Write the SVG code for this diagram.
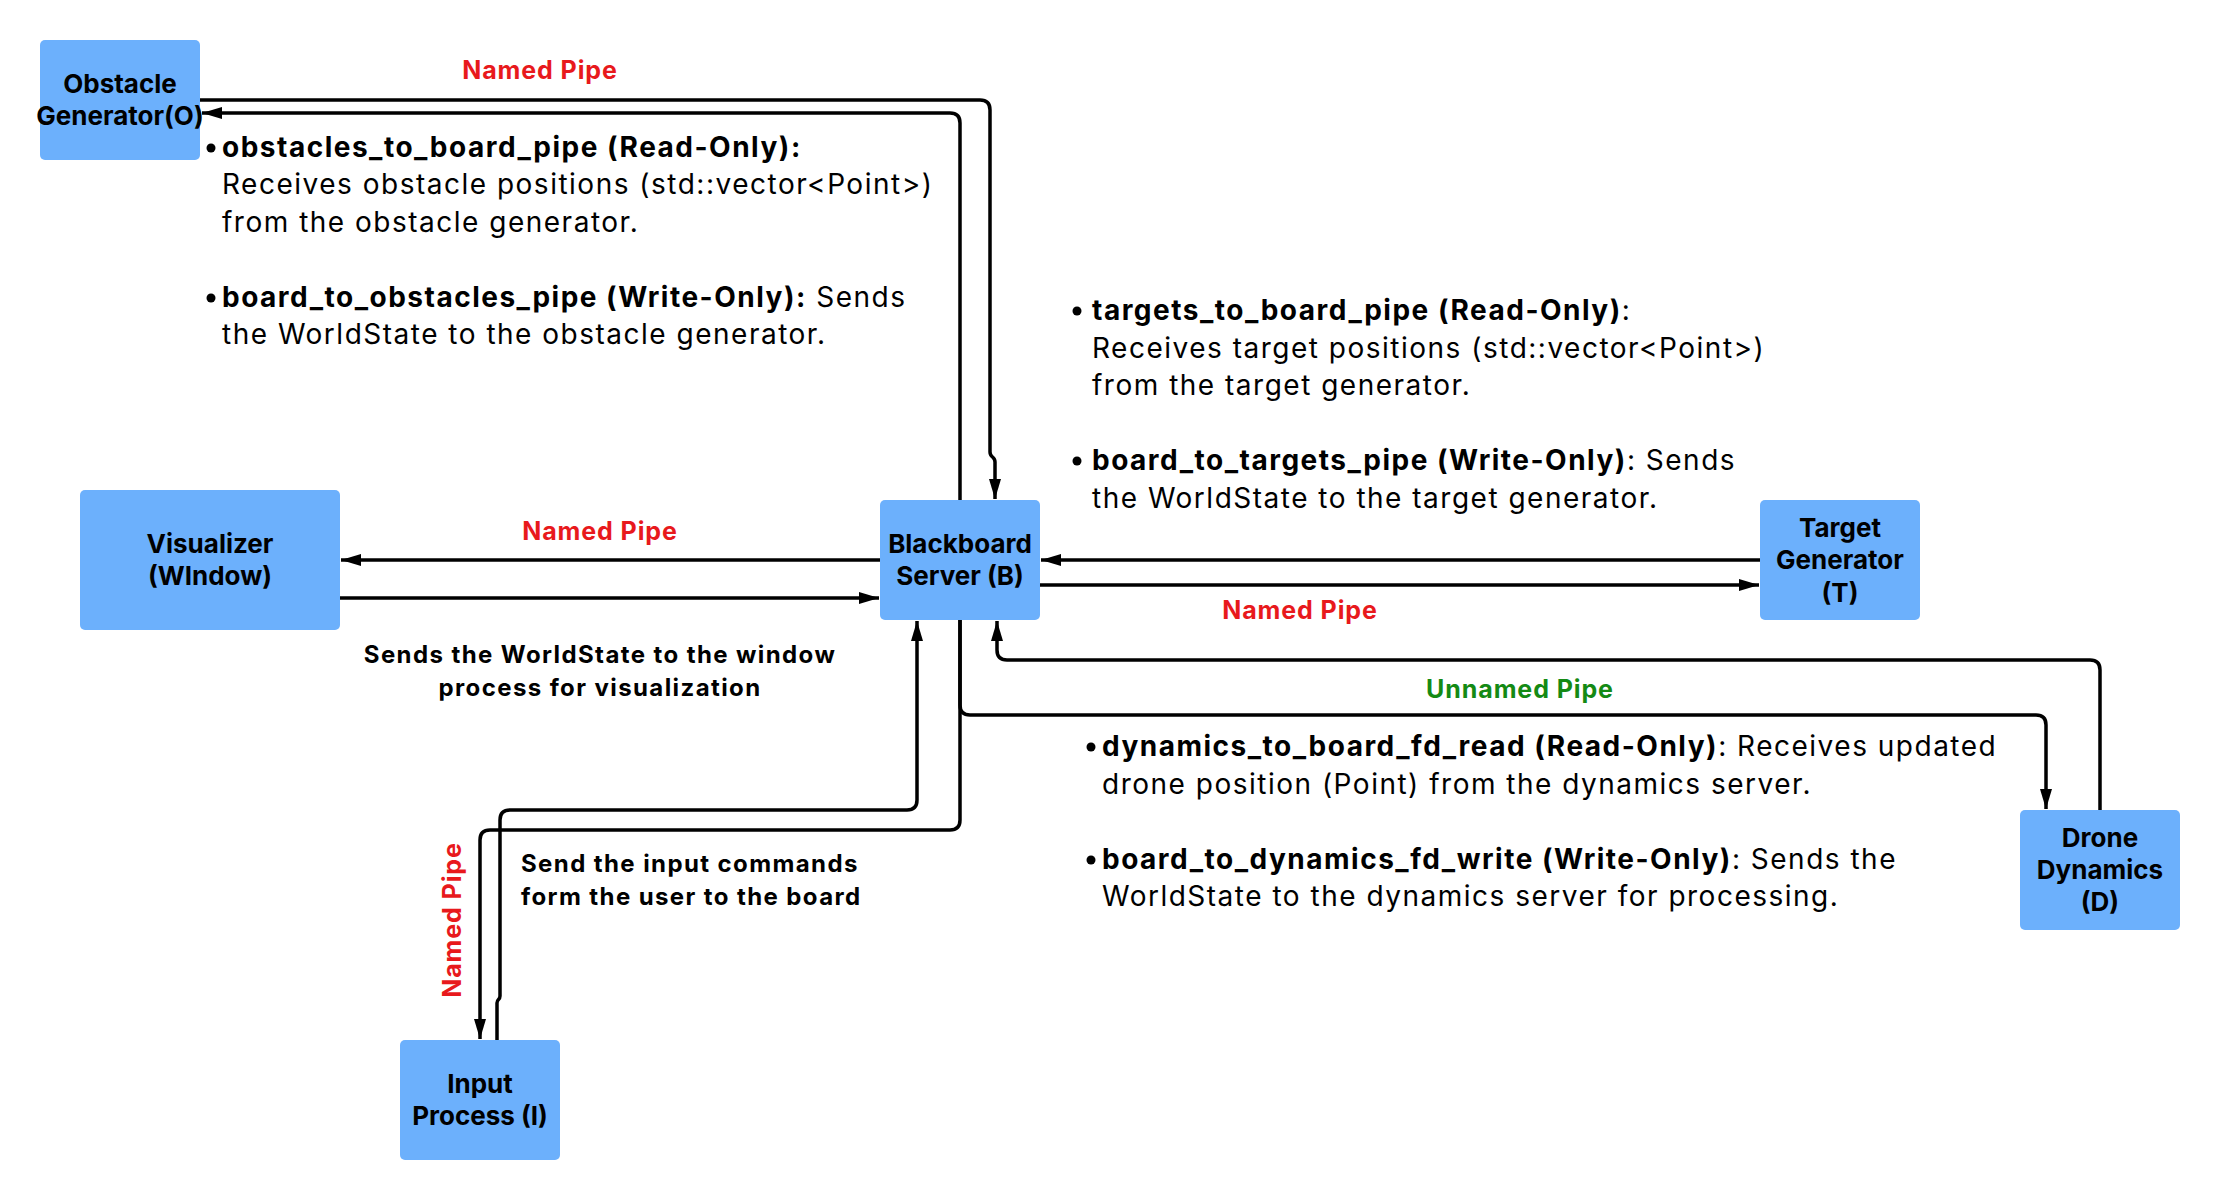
<svg xmlns="http://www.w3.org/2000/svg" width="2220" height="1200" viewBox="0 0 2220 1200">
<defs>
<marker id="arr" markerUnits="userSpaceOnUse" markerWidth="20" markerHeight="12" refX="20" refY="6" orient="auto">
<path d="M0,0 L20,6 L0,12 Z" fill="#000"/>
</marker>
<style>
.node rect{fill:#6CB0FC;stroke:none}
.nl{font-family:Inter,"Noto Sans","Liberation Sans",sans-serif;font-weight:700;font-size:26px;fill:#000;text-anchor:middle}
.body{font-family:Inter,"Noto Sans","Liberation Sans",sans-serif;font-size:28px;letter-spacing:1.5px;fill:#000}
.b{font-weight:700}
.cap{font-family:Inter,"Noto Sans","Liberation Sans",sans-serif;font-weight:700;font-size:24px;letter-spacing:1.4px;fill:#000}
.red{font-family:Inter,"Noto Sans","Liberation Sans",sans-serif;font-weight:700;font-size:25px;letter-spacing:0.9px;fill:#E8191C;text-anchor:middle}
.green{font-family:Inter,"Noto Sans","Liberation Sans",sans-serif;font-weight:700;font-size:25px;letter-spacing:0.9px;fill:#148A14;text-anchor:middle}
.conn path{fill:none;stroke:#000;stroke-width:3.5;marker-end:url(#arr)}
</style>
</defs>
<rect width="2220" height="1200" fill="#fff"/>

<g id="connectors" class="conn">
<path d="M960,500 V123 Q960,113 950,113 H202"/>
<path d="M200,100 H980 Q990,100 990,110 V452 C990,458 995,456 995,462 V499" />
<path d="M880,560 H341"/>
<path d="M340,598 H879"/>
<path d="M1760,560 H1041"/>
<path d="M1040,585 H1759"/>
<path d="M2100,810 V670 Q2100,660 2090,660 H1007 Q997,660 997,650 V621"/>
<path d="M960,620 V705 Q960,715 970,715 H2036 Q2046,715 2046,725 V809"/>
<path d="M960,620 V820 Q960,830 950,830 H490 Q480,830 480,840 V1039"/>
<path d="M497,1040 V1003 C497,999 500,1000 500,996 V820 Q500,810 510,810 H907 Q917,810 917,800 V621"/>
</g>

<g id="labels">
<text class="red" x="540" y="79">Named Pipe</text>
<text class="red" x="600" y="540">Named Pipe</text>
<text class="red" x="1300" y="619">Named Pipe</text>
<text class="green" x="1520" y="698">Unnamed Pipe</text>
<text class="red" transform="translate(461,920) rotate(-90)" x="0" y="0">Named Pipe</text>
<text class="cap" x="600" y="663" text-anchor="middle">Sends the WorldState to the window</text>
<text class="cap" x="600" y="696" text-anchor="middle">process for visualization</text>
<text class="cap" x="521" y="872">Send the input commands</text>
<text class="cap" x="521" y="905">form the user to the board</text>
</g>

<g id="notes-obstacles" class="body">
<circle cx="211" cy="148" r="4.5" fill="#000"/>
<text x="222" y="157"><tspan class="b">obstacles_to_board_pipe (Read-Only):</tspan></text>
<text x="222" y="194">Receives obstacle positions (std::vector&lt;Point&gt;)</text>
<text x="222" y="231.5">from the obstacle generator.</text>
<circle cx="211" cy="298" r="4.5" fill="#000"/>
<text x="222" y="307"><tspan class="b">board_to_obstacles_pipe (Write-Only):</tspan> Sends</text>
<text x="222" y="344">the WorldState to the obstacle generator.</text>
</g>

<g id="notes-targets" class="body">
<circle cx="1077" cy="311" r="4.5" fill="#000"/>
<text x="1092" y="320"><tspan class="b">targets_to_board_pipe (Read-Only)</tspan>:</text>
<text x="1092" y="357.5">Receives target positions (std::vector&lt;Point&gt;)</text>
<text x="1092" y="395">from the target generator.</text>
<circle cx="1077" cy="461" r="4.5" fill="#000"/>
<text x="1092" y="470"><tspan class="b">board_to_targets_pipe (Write-Only)</tspan>: Sends</text>
<text x="1092" y="507.5">the WorldState to the target generator.</text>
</g>

<g id="notes-dynamics" class="body">
<circle cx="1091" cy="747" r="4.5" fill="#000"/>
<text x="1102" y="756"><tspan class="b">dynamics_to_board_fd_read (Read-Only)</tspan>: Receives updated</text>
<text x="1102" y="793.5">drone position (Point) from the dynamics server.</text>
<circle cx="1091" cy="860" r="4.5" fill="#000"/>
<text x="1102" y="868.5"><tspan class="b">board_to_dynamics_fd_write (Write-Only)</tspan>: Sends the</text>
<text x="1102" y="906">WorldState to the dynamics server for processing.</text>
</g>

<g id="node-obstacle" class="node">
<rect x="40" y="40" width="160" height="120" rx="5"/>
<text class="nl" x="120" y="93">Obstacle</text>
<text class="nl" x="120" y="125">Generator(O)</text>
</g>
<g id="node-visualizer" class="node">
<rect x="80" y="490" width="260" height="140" rx="5"/>
<text class="nl" x="210" y="553">Visualizer</text>
<text class="nl" x="210" y="585">(WIndow)</text>
</g>
<g id="node-blackboard" class="node">
<rect x="880" y="500" width="160" height="120" rx="5"/>
<text class="nl" x="960" y="553">Blackboard</text>
<text class="nl" x="960" y="585">Server (B)</text>
</g>
<g id="node-target" class="node">
<rect x="1760" y="500" width="160" height="120" rx="5"/>
<text class="nl" x="1840" y="537">Target</text>
<text class="nl" x="1840" y="569">Generator</text>
<text class="nl" x="1840" y="602">(T)</text>
</g>
<g id="node-drone" class="node">
<rect x="2020" y="810" width="160" height="120" rx="5"/>
<text class="nl" x="2100" y="847">Drone</text>
<text class="nl" x="2100" y="879">Dynamics</text>
<text class="nl" x="2100" y="911">(D)</text>
</g>
<g id="node-input" class="node">
<rect x="400" y="1040" width="160" height="120" rx="5"/>
<text class="nl" x="480" y="1093">Input</text>
<text class="nl" x="480" y="1125">Process (I)</text>
</g>
</svg>
